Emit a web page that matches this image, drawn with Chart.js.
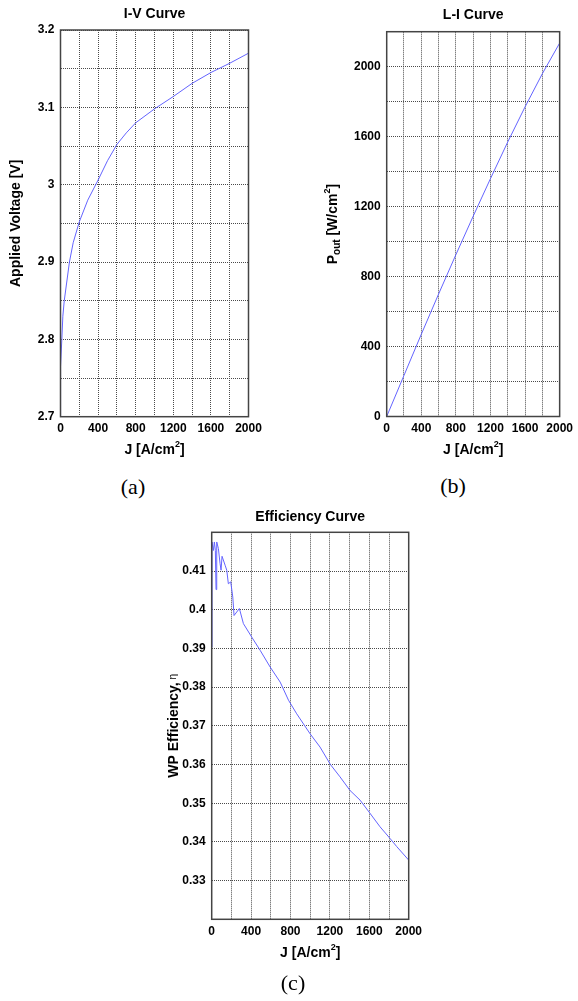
<!DOCTYPE html>
<html>
<head>
<meta charset="utf-8">
<script src="https://cdn.jsdelivr.net/npm/chart.js@4.4.1/dist/chart.umd.min.js"></script>
<style>
  body { margin: 0; background: #fff; width: 578px; height: 1001px; position: relative; overflow: hidden; }
  .box { position: absolute; }
  .cap { position: absolute; font-family: 'Liberation Serif', 'Times New Roman', serif; font-size: 22px; color: #000; transform: translate(-50%, -50%); }
</style>
</head>
<body>
<div class="box" style="left:0px;top:0px;width:300px;height:470px"><canvas id="chartA"></canvas></div>
<div class="box" style="left:310px;top:0px;width:268px;height:470px"><canvas id="chartB"></canvas></div>
<div class="box" style="left:150px;top:495px;width:280px;height:506px"><canvas id="chartC"></canvas></div>
<div class="cap" style="left:133px;top:487px">(a)</div>
<div class="cap" style="left:453px;top:486px">(b)</div>
<div class="cap" style="left:293px;top:983px">(c)</div>
<script>
// I-V curve
const ivJ = [0, 0, 1, 14, 25, 40, 95, 135, 200, 290, 400, 500, 600, 700, 800, 1000, 1200, 1400, 1600, 1800, 2000];
const ivV = [2.7, 2.745, 2.765, 2.8, 2.83, 2.85, 2.9, 2.925, 2.952, 2.98, 3.006, 3.031, 3.052, 3.067, 3.08, 3.098, 3.114, 3.131, 3.145, 3.157, 3.17];

// L-I curve
const liJ = [0, 200, 400, 600, 800, 1000, 1200, 1400, 1600, 1800, 2000];
const liP = [0, 235, 470, 700, 925, 1145, 1360, 1570, 1770, 1960, 2135];

// Efficiency curve
const effJ = [3, 3, 17, 27, 37, 44, 51, 68, 85, 95, 105, 136, 153, 169, 193, 214, 227, 254, 281, 322, 407, 492, 593, 695, 780, 863, 1000, 1100, 1205, 1303, 1404, 1506, 1604, 1709, 1810, 1878, 2000];
const effEta = [0.3903, 0.4175, 0.4153, 0.4175, 0.4153, 0.4052, 0.4175, 0.4158, 0.4119, 0.4102, 0.4138, 0.4115, 0.4102, 0.4067, 0.4072, 0.4033, 0.3985, 0.3994, 0.4003, 0.3964, 0.3929, 0.3895, 0.3852, 0.3813, 0.3766, 0.3731, 0.3679, 0.3645, 0.36, 0.3568, 0.3533, 0.3508, 0.3475, 0.3439, 0.3409, 0.3388, 0.3353];

const FONT = "'Liberation Sans', Arial, sans-serif";
const LINE = '#6464ff';
const GRID = '#4a4a4a';

function pts(xs, ys) { return xs.map((x, i) => ({ x: x, y: ys[i] })); }

// draws a list of [text, font, dy] pieces centred on x,y
function drawRich(ctx, segs, x, y, rot) {
    ctx.save();
    ctx.translate(x, y);
    if (rot) ctx.rotate(-Math.PI / 2);
    let total = 0;
    segs.forEach(s => { ctx.font = s[1]; total += ctx.measureText(s[0]).width; });
    let cx = -total / 2;
    ctx.fillStyle = '#000';
    ctx.textBaseline = 'middle';
    ctx.textAlign = 'left';
    segs.forEach(s => {
        ctx.font = s[1];
        ctx.fillText(s[0], cx, s[2] || 0);
        cx += ctx.measureText(s[0]).width;
    });
    ctx.restore();
}

const B14 = 'bold 14px ' + FONT;
const B9 = 'bold 9px ' + FONT;
const jTitle = [['J [A/cm', B14], ['2', B9, -5], [']', B14]];

const decoPlugin = {
    id: 'deco',
    afterDraw(chart, args, o) {
        const ctx = chart.ctx, a = chart.chartArea;
        ctx.save();
        ctx.strokeStyle = '#444';
        ctx.lineWidth = 1.5;
        ctx.strokeRect(a.left, a.top, a.right - a.left, a.bottom - a.top);
        ctx.restore();
        const mx = (a.left + a.right) / 2, my = (a.top + a.bottom) / 2;
        drawRich(ctx, [[o.title, B14]], mx, o.titleY);
        drawRich(ctx, jTitle, mx, o.xTitleY);
        drawRich(ctx, o.yTitle, o.yTitleX, my, true);
    }
};

function makeChart(id, xs, ys, yMin, yMax, yStep, yLabel, pad, yW, xH, deco) {
    return new Chart(document.getElementById(id), {
        type: 'line',
        data: { datasets: [{ data: pts(xs, ys), borderColor: LINE, borderWidth: 1, pointRadius: 0, tension: 0, fill: false }] },
        options: {
            responsive: true,
            maintainAspectRatio: false,
            animation: false,
            layout: { padding: pad, autoPadding: false },
            plugins: { legend: { display: false }, tooltip: { enabled: false }, deco: deco },
            scales: {
                x: {
                    type: 'linear', min: 0, max: 2000,
                    ticks: { stepSize: 200, autoSkip: false, maxRotation: 0, padding: 5, color: '#000',
                        font: { family: FONT, size: 12, weight: 'bold' },
                        callback: v => (v % 400 === 0 ? String(v) : '') },
                    grid: { color: GRID, drawTicks: false },
                    border: { display: false, dash: [1, 1] },
                    afterFit: s => { s.height = xH; }
                },
                y: {
                    min: yMin, max: yMax,
                    ticks: { stepSize: yStep, autoSkip: false, padding: 6, color: '#000',
                        font: { family: FONT, size: 12, weight: 'bold' },
                        callback: yLabel },
                    grid: { color: GRID, drawTicks: false },
                    border: { display: false, dash: [1, 1] },
                    afterFit: s => { s.width = yW; }
                }
            }
        },
        plugins: [decoPlugin]
    });
}

makeChart('chartA', ivJ, ivV, 2.7, 3.2, 0.05,
    v => (Math.round(v * 100) % 10 === 0 ? String(+v.toFixed(1)) : ''),
    { left: 0, top: 30, right: 51.5, bottom: 0 }, 60.5, 53.3,
    { title: 'I-V Curve', titleY: 14.5, xTitleY: 450, yTitleX: 16, yTitle: [['Applied Voltage [V]', B14]] });

makeChart('chartB', liJ, liP, 0, 2200, 200,
    v => (v % 400 === 0 ? String(v) : ''),
    { left: 0, top: 31.7, right: 12.3, bottom: 0 }, 76.7, 53.5,
    { title: 'L-I Curve', titleY: 15, xTitleY: 450, yTitleX: 23,
      yTitle: [['P', B14], ['out', 'bold 10px ' + FONT, 4], [' [W/cm', B14], ['2', B9, -5], [']', B14]] });

makeChart('chartC', effJ, effEta, 0.32, 0.42, 0.01,
    v => { const r = Math.round(v * 100); return (r === 32 || r === 42) ? '' : String(r / 100); },
    { left: 0, top: 37.3, right: 21.3, bottom: 0 }, 61.7, 81.7,
    { title: 'Efficiency Curve', titleY: 22, xTitleY: 458, yTitleX: 24,
      yTitle: [['WP Efficiency,', B14], [' \u03b7', '10px ' + FONT, -1]] });
</script>
</body>
</html>
